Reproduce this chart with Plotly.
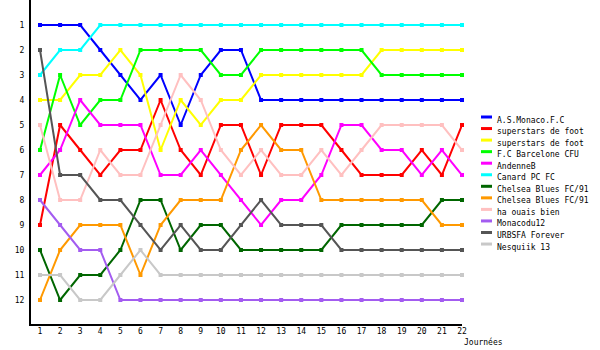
import plotly.graph_objects as go

days = list(range(1, 23))
teams = ["A.S.Monaco.F.C", "superstars de foot", "superstars de foot", "F.C Barcelone CFU",
         "AndenneB", "Canard PC FC", "Chelsea Blues FC/91", "Chelsea Blues FC/91",
         "ha ouais bien", "Monacodu12", "URBSFA Forever", "Nesquiik 13"]
colors = ["#0000FF", "#FF0000", "#FFFF00", "#00FF00", "#FF00FF", "#00FFFF",
          "#006600", "#FF9900", "#FFC0C0", "#A35CF0", "#555555", "#C8C8C8"]

monaco      = [1, 1, 1, 2, 3, 4, 3, 5, 3, 2, 2, 4, 4, 4, 4, 4, 4, 4, 4, 4, 4, 4]
superstars1 = [9, 5, 6, 7, 6, 6, 4, 6, 7, 5, 5, 7, 5, 5, 5, 6, 7, 7, 7, 6, 7, 5]
superstars2 = [4, 4, 3, 3, 2, 3, 6, 4, 5, 4, 4, 3, 3, 3, 3, 3, 3, 2, 2, 2, 2, 2]
barcelone   = [6, 3, 5, 4, 4, 2, 2, 2, 2, 3, 3, 2, 2, 2, 2, 2, 2, 3, 3, 3, 3, 3]
andenne     = [7, 6, 4, 5, 5, 5, 7, 7, 6, 7, 8, 9, 8, 8, 7, 5, 5, 6, 6, 7, 6, 7]
canard      = [3, 2, 2, 1, 1, 1, 1, 1, 1, 1, 1, 1, 1, 1, 1, 1, 1, 1, 1, 1, 1, 1]
chelsea1    = [10, 12, 11, 11, 10, 8, 8, 10, 9, 9, 10, 10, 10, 10, 10, 9, 9, 9, 9, 9, 8, 8]
chelsea2    = [12, 10, 9, 9, 9, 11, 9, 8, 8, 8, 6, 5, 6, 6, 8, 8, 8, 8, 8, 8, 9, 9]
haouais     = [5, 8, 8, 6, 7, 7, 5, 3, 4, 6, 7, 6, 7, 7, 6, 7, 6, 5, 5, 5, 5, 6]
monacodu12  = [8, 9, 10, 10, 12, 12, 12, 12, 12, 12, 12, 12, 12, 12, 12, 12, 12, 12, 12, 12, 12, 12]
urbsfa      = [2, 7, 7, 8, 8, 9, 10, 9, 10, 10, 9, 8, 9, 9, 9, 10, 10, 10, 10, 10, 10, 10]
nesquiik    = [11, 11, 12, 12, 11, 10, 11, 11, 11, 11, 11, 11, 11, 11, 11, 11, 11, 11, 11, 11, 11, 11]

series = [monaco, superstars1, superstars2, barcelone, andenne, canard,
          chelsea1, chelsea2, haouais, monacodu12, urbsfa, nesquiik]
y_ticks = list(range(1, 13))

FONT = "DejaVu Sans Mono"
FS = 8
W, H = 600, 350
L, R, T, B = 31, 138, 0, 26
PW, PH = W - L - R, H - T - B

fig = go.Figure()
for name, vals, col in zip(teams, series, colors):
    fig.add_trace(go.Scatter(
        x=days, y=vals, name=name, mode="lines+markers",
        line=dict(color=col, width=2),
        marker=dict(symbol="square", size=4, color=col),
        cliponaxis=False, showlegend=False))

def px2paper(px, py):
    return (px - L) / PW, (H - B - py) / PH

shapes, annotations = [], []
for i, (name, col) in enumerate(zip(teams, colors)):
    ty = 120 + i * 11.55
    x0, y0 = px2paper(481, ty - 3)
    x1, _ = px2paper(492, ty - 3)
    shapes.append(dict(type="line", xref="paper", yref="paper",
                       x0=x0, x1=x1, y0=y0, y1=y0,
                       line=dict(color=col, width=3)))
    tx, tyy = px2paper(495, ty)
    annotations.append(dict(text=name, xref="paper", yref="paper", x=tx, y=tyy,
                            xanchor="left", yanchor="middle", showarrow=False,
                            font=dict(family=FONT, size=FS, color="black")))

jx, jy = px2paper(462, 342)
annotations.append(dict(text="Journées", xref="paper", yref="paper", x=jx, y=jy,
                        xanchor="left", yanchor="middle", showarrow=False,
                        font=dict(family=FONT, size=FS, color="black")))

fig.update_layout(
    width=W, height=H,
    margin=dict(l=L, r=R, t=T, b=B, pad=0),
    paper_bgcolor="white", plot_bgcolor="white",
    font=dict(family=FONT, size=FS, color="black"),
    shapes=shapes, annotations=annotations,
    xaxis=dict(range=[1 - 9 / 20.1, 22], tickvals=days, ticktext=[str(d) for d in days],
               showgrid=False, zeroline=False, showline=True, linecolor="black",
               linewidth=2, ticks="", ticklabelstandoff=-2, fixedrange=True),
    yaxis=dict(range=[12.96, 0], tickvals=y_ticks, ticktext=[str(v) for v in y_ticks],
               showgrid=False, zeroline=False, showline=True, linecolor="black",
               linewidth=2, ticks="", ticklabelstandoff=3, fixedrange=True),
)

fig.write_html("out.html", config={"displayModeBar": False})
